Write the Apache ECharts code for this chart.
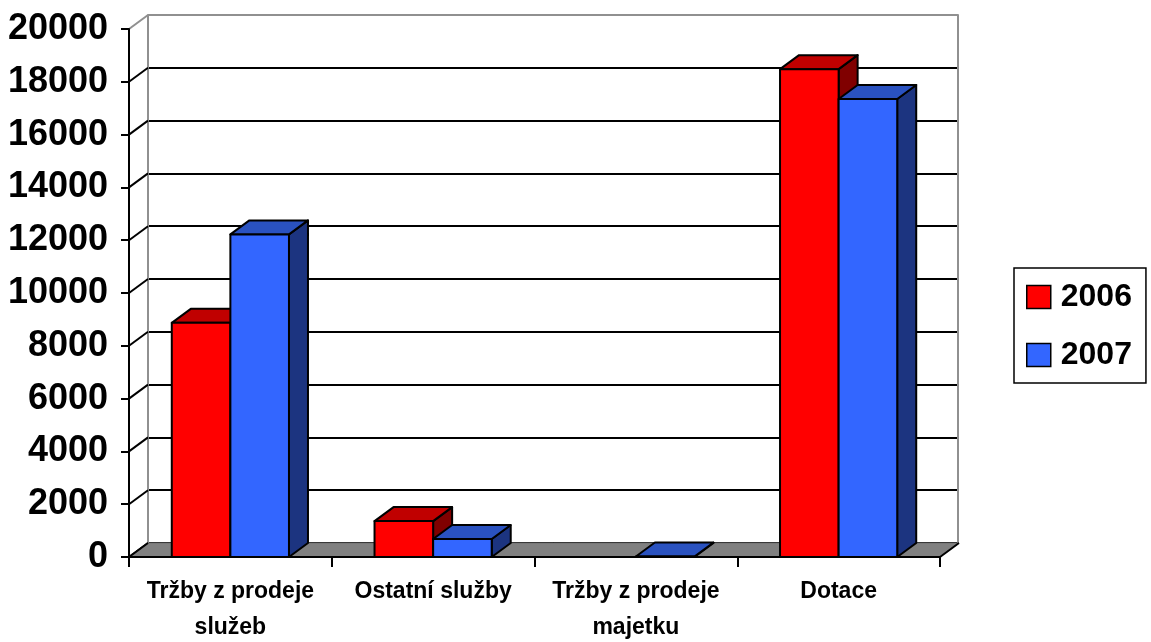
<!DOCTYPE html>
<html>
<head>
<meta charset="utf-8">
<script src="https://cdn.jsdelivr.net/npm/echarts@6/dist/echarts.min.js"></script>
<style>html,body{margin:0;padding:0;background:#fff}#c{width:1151px;height:642px}</style>
</head>
<body>
<div id="c"></div>
<script>
// ---- data ----
const categories = ['Tržby z prodeje\nslužeb', 'Ostatní služby', 'Tržby z prodeje\nmajetku', 'Dotace'];
const seriesNames = ['2006', '2007'];
const values2006 = [8870, 1360, null, 18480];
const values2007 = [12220, 680, 20, 17350];
const yTicks = [0, 2000, 4000, 6000, 8000, 10000, 12000, 14000, 16000, 18000, 20000];

// ---- style constants ----
const DX = 19, DY = -14;           // 3D depth offset (px)
const FONT = '"Liberation Sans", Arial, sans-serif';
const colors = {
  '2006': { front: '#FF0000', top: '#C00000', side: '#800000' },
  '2007': { front: '#3366FF', top: '#2A52C0', side: '#1C3480' }
};

const chart = echarts.init(document.getElementById('c'), null, { renderer: 'canvas' });

function barRender(seriesIdx, name) {
  const c = colors[name];
  return function (params, api) {
    const v = api.value(1);
    if (v == null || isNaN(v)) return null;
    const cat = api.value(0);
    const base = api.coord([cat, 0]);
    const top = api.coord([cat, v]);
    const band = api.size([1, 0])[0];
    const w = band * 0.289;
    const x = base[0] - w + seriesIdx * w;
    const y0 = base[1], y1 = top[1];
    const stroke = { stroke: '#000', lineWidth: 2, lineJoin: 'round' };
    return {
      type: 'group',
      children: [
        { type: 'polygon', shape: { points: [[x + w, y1], [x + w + DX, y1 + DY], [x + w + DX, y0 + DY], [x + w, y0]] },
          style: Object.assign({ fill: c.side }, stroke) },
        { type: 'polygon', shape: { points: [[x, y1], [x + w, y1], [x + w + DX, y1 + DY], [x + DX, y1 + DY]] },
          style: Object.assign({ fill: c.top }, stroke) },
        { type: 'rect', shape: { x: x, y: y1, width: w, height: y0 - y1 },
          style: Object.assign({ fill: c.front }, stroke) }
      ]
    };
  };
}

const gridLineColors = yTicks.map((t, i) => i === yTicks.length - 1 ? '#909090' : '#000');

const option = {
  animation: false,
  backgroundColor: '#fff',
  grid: [
    { left: 129, right: 211, top: 29, bottom: 85, containLabel: false, outerBoundsMode: 'none' },
    { left: 148, right: 193, top: 15, bottom: 99, containLabel: false, outerBoundsMode: 'none' }
  ],
  xAxis: [
    { type: 'category', gridIndex: 0, data: categories, z: 10,
      axisLine: { show: true, lineStyle: { color: '#000', width: 2 } },
      axisTick: { show: true, length: 10, lineStyle: { color: '#000', width: 2 } },
      axisLabel: { interval: 0, margin: 17, color: '#000', fontFamily: FONT, fontWeight: 'bold', fontSize: 23, lineHeight: 36 },
      splitLine: { show: false } },
    { type: 'category', gridIndex: 1, data: categories, show: false }
  ],
  yAxis: [
    { type: 'value', gridIndex: 0, min: 0, max: 20000, interval: 2000, z: 10,
      axisLine: { show: true, lineStyle: { color: '#000', width: 2 } },
      axisTick: { show: true, length: 8, lineStyle: { color: '#000', width: 2 } },
      axisLabel: { margin: 21, color: '#000', fontFamily: FONT, fontWeight: 'bold', fontSize: 36,
        formatter: function (v) { return String(v); } },
      splitLine: { show: false } },
    { type: 'value', gridIndex: 1, min: 0, max: 20000, interval: 2000,
      axisLine: { show: true, lineStyle: { color: '#909090', width: 2 } },
      axisTick: { show: false }, axisLabel: { show: false },
      splitLine: { show: true, lineStyle: { color: gridLineColors, width: 2 } } },
    { type: 'value', gridIndex: 1, position: 'right', min: 0, max: 20000, interval: 2000,
      axisLine: { show: true, lineStyle: { color: '#909090', width: 2 } },
      axisTick: { show: false }, axisLabel: { show: false }, splitLine: { show: false } }
  ],
  legend: {
    data: seriesNames,
    orient: 'vertical',
    left: 1014, top: 268,
    padding: [13, 14, 12, 12],
    itemWidth: 24, itemHeight: 23, itemGap: 26,
    icon: 'rect',
    borderColor: '#000', borderWidth: 1.5,
    itemStyle: { borderColor: '#000', borderWidth: 1.5 },
    textStyle: { color: '#000', fontFamily: FONT, fontWeight: 'bold', fontSize: 32, lineHeight: 31, padding: [0, 0, 0, 5] }
  },
  series: [
    { // left wall diagonals
      type: 'custom', xAxisIndex: 0, yAxisIndex: 0, z: 2, silent: true,
      data: yTicks.map(t => [0, t]),
      renderItem: function (params, api) {
        const band = api.size([1, 0])[0];
        const p = api.coord([0, api.value(1)]);
        const x = p[0] - band / 2;
        const isTop = params.dataIndex === yTicks.length - 1;
        return { type: 'line', shape: { x1: x, y1: p[1], x2: x + DX, y2: p[1] + DY },
          style: { stroke: isTop ? '#909090' : '#000', lineWidth: 2 } };
      }
    },
    { // floor
      type: 'custom', xAxisIndex: 0, yAxisIndex: 0, z: 3, silent: true,
      data: [[0, 0]],
      renderItem: function (params, api) {
        const band = api.size([1, 0])[0];
        const a = api.coord([0, 0]);
        const b = api.coord([categories.length - 1, 0]);
        const x0 = a[0] - band / 2, x1 = b[0] + band / 2, y = a[1];
        return { type: 'group', children: [
          { type: 'polygon', shape: { points: [[x0, y], [x1, y], [x1 + DX, y + DY], [x0 + DX, y + DY]] },
            style: { fill: '#808080', stroke: '#707070', lineWidth: 1 } },
          { type: 'line', shape: { x1: x0, y1: y, x2: x0 + DX, y2: y + DY }, style: { stroke: '#000', lineWidth: 2 } },
          { type: 'line', shape: { x1: x1, y1: y, x2: x1 + DX, y2: y + DY }, style: { stroke: '#000', lineWidth: 2 } }
        ] };
      }
    },
    { name: '2006', type: 'custom', xAxisIndex: 0, yAxisIndex: 0, z: 4,
      itemStyle: { color: colors['2006'].front },
      data: values2006.map((v, i) => [i, v == null ? '-' : v]),
      renderItem: barRender(0, '2006') },
    { name: '2007', type: 'custom', xAxisIndex: 0, yAxisIndex: 0, z: 5,
      itemStyle: { color: colors['2007'].front },
      data: values2007.map((v, i) => [i, v == null ? '-' : v]),
      renderItem: barRender(1, '2007') }
  ]
};
chart.setOption(option);
</script>
</body>
</html>
